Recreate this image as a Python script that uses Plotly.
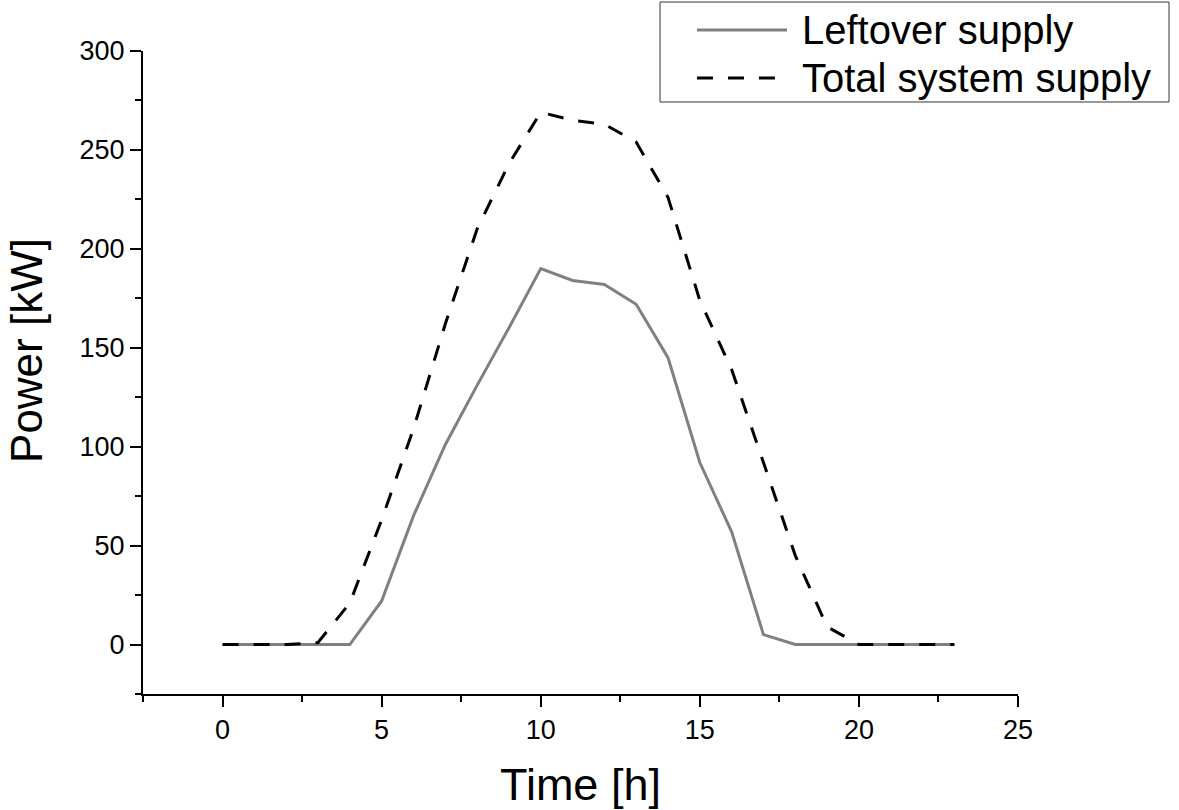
import plotly.graph_objects as go

hours = list(range(24))
leftover = [0, 0, 0, 0, 0, 22, 65, 101, 131, 160, 190, 184, 182, 172, 145, 92, 57, 5, 0, 0, 0, 0, 0, 0]
total = [0, 0, 0, 1, 21, 63, 109, 162, 210, 243, 269, 265, 263, 254, 226, 174, 139, 92, 45, 9, 0, 0, 0, 0]
series_names = ["Leftover supply", "Total system supply"]

x_ticks = [0, 5, 10, 15, 20, 25]
y_ticks = [0, 50, 100, 150, 200, 250, 300]

FONT = "Liberation Sans, Arial, sans-serif"
GREY_LINE = dict(color="#808080", width=3)
DASH_LINE = dict(color="black", width=3, dash="16px,15px")

fig = go.Figure()
fig.add_trace(go.Scatter(x=hours, y=leftover, mode="lines", name=series_names[0],
                         line=GREY_LINE, showlegend=False))
fig.add_trace(go.Scatter(x=hours, y=total, mode="lines", name=series_names[1],
                         line=DASH_LINE, showlegend=False))

axis_common = dict(showline=True, linecolor="black", linewidth=2, ticks="outside",
                   ticklen=11, tickwidth=2, tickcolor="black", showgrid=False, zeroline=False,
                   automargin=False,
                   tickfont=dict(family=FONT, size=27, color="black"),
                   minor=dict(ticks="outside", ticklen=6, tickwidth=2, tickcolor="black", showgrid=False))

fig.update_xaxes(range=[-2.5, 25], tickvals=x_ticks, dtick=5,
                 minor_dtick=2.5,
                 title=dict(text="Time [h]", font=dict(family=FONT, size=45, color="black"), standoff=28),
                 **axis_common)
fig.update_yaxes(range=[-25, 300], tickvals=y_ticks, dtick=50,
                 minor_dtick=25, **axis_common)

# y-axis title placed as annotation to match reference position
fig.add_annotation(xref="paper", yref="paper", x=-0.1326, y=0.535, text="Power [kW]",
                   textangle=-90, showarrow=False, xanchor="center", yanchor="middle",
                   borderpad=0,
                   font=dict(family=FONT, size=44, color="black"))

# manual legend (paper coordinates)
fig.add_shape(type="rect", xref="paper", yref="paper", x0=0.5909, x1=1.1726, y0=0.9207, y1=1.0762,
              line=dict(color="#333333", width=1), fillcolor="white", layer="above")
leg_y = [1.0327, 0.958]
leg_styles = [GREY_LINE, DASH_LINE]
for name, yy, st in zip(series_names, leg_y, leg_styles):
    fig.add_shape(type="line", xref="paper", yref="paper", x0=0.6331, x1=0.736, y0=yy, y1=yy,
                  line=st, layer="above")
    fig.add_annotation(xref="paper", yref="paper", x=0.7509, y=yy, text=name, showarrow=False,
                       xanchor="left", yanchor="middle",
                       font=dict(family=FONT, size=40, color="black"))

fig.update_layout(
    width=1179, height=810,
    margin=dict(l=143, r=161, t=51, b=116),
    plot_bgcolor="white", paper_bgcolor="white",
    font=dict(family=FONT, color="black"),
    showlegend=False,
)

fig.write_html("out.html", config={"displayModeBar": False},
               post_script="document.body.style.margin='0px';document.body.style.overflow='hidden';")
